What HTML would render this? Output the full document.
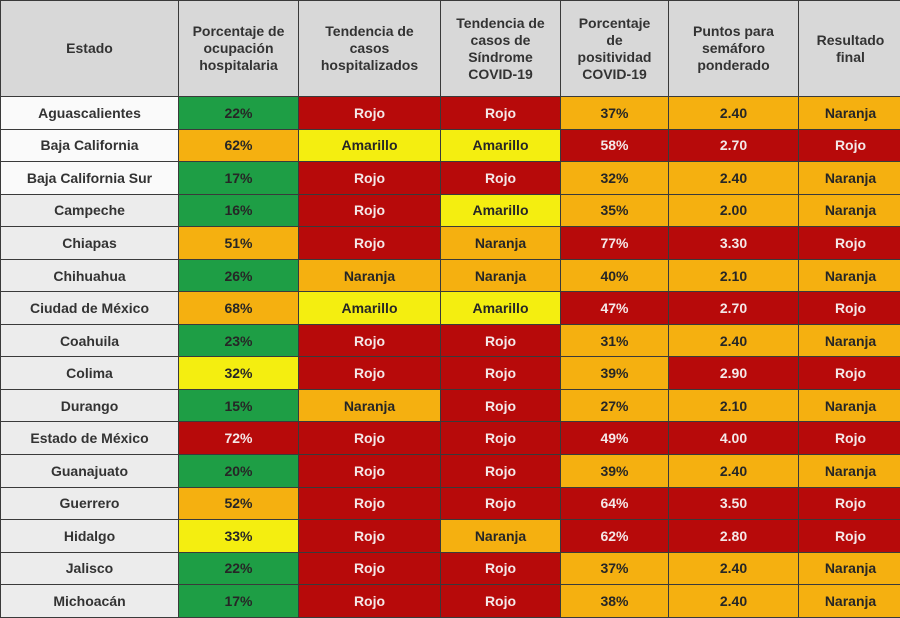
<!DOCTYPE html>
<html><head><meta charset="utf-8"><style>
body{margin:0;width:900px;height:617px;overflow:hidden;background:#ddd;}
table{border-collapse:collapse;table-layout:fixed;position:absolute;left:0;top:0;width:902px;font-family:"Liberation Sans",sans-serif;font-weight:bold;}
td,th{border:1.5px solid #3a3a3a;text-align:center;padding:0;font-size:14px;color:#262626;}
th{background:#d8d8d8;height:95px;font-size:14px;line-height:17px;color:#333;}
td{height:31.56px;}
td.s{background:#ececec;color:#333;}
tr.w td.s{background:#fafafa;}
.g{background:#1e9e45;}
.o{background:#f5b010;}
.y{background:#f4ee10;}
.r{background:#b70a0a;color:#f4e8e8;}
</style></head><body>
<table>
<colgroup><col style="width:178px"><col style="width:120px"><col style="width:142px"><col style="width:120px"><col style="width:108px"><col style="width:130px"><col style="width:104px"></colgroup>
<tr><th>Estado</th><th>Porcentaje de<br>ocupación<br>hospitalaria</th><th>Tendencia de<br>casos<br>hospitalizados</th><th>Tendencia de<br>casos de<br>Síndrome<br>COVID-19</th><th>Porcentaje<br>de<br>positividad<br>COVID-19</th><th>Puntos para<br>semáforo<br>ponderado</th><th>Resultado<br>final</th></tr>
<tr class="w"><td class="s">Aguascalientes</td><td class="g">22%</td><td class="r">Rojo</td><td class="r">Rojo</td><td class="o">37%</td><td class="o">2.40</td><td class="o">Naranja</td></tr>
<tr class="w"><td class="s">Baja California</td><td class="o">62%</td><td class="y">Amarillo</td><td class="y">Amarillo</td><td class="r">58%</td><td class="r">2.70</td><td class="r">Rojo</td></tr>
<tr class="w"><td class="s">Baja California Sur</td><td class="g">17%</td><td class="r">Rojo</td><td class="r">Rojo</td><td class="o">32%</td><td class="o">2.40</td><td class="o">Naranja</td></tr>
<tr><td class="s">Campeche</td><td class="g">16%</td><td class="r">Rojo</td><td class="y">Amarillo</td><td class="o">35%</td><td class="o">2.00</td><td class="o">Naranja</td></tr>
<tr><td class="s">Chiapas</td><td class="o">51%</td><td class="r">Rojo</td><td class="o">Naranja</td><td class="r">77%</td><td class="r">3.30</td><td class="r">Rojo</td></tr>
<tr><td class="s">Chihuahua</td><td class="g">26%</td><td class="o">Naranja</td><td class="o">Naranja</td><td class="o">40%</td><td class="o">2.10</td><td class="o">Naranja</td></tr>
<tr><td class="s">Ciudad de México</td><td class="o">68%</td><td class="y">Amarillo</td><td class="y">Amarillo</td><td class="r">47%</td><td class="r">2.70</td><td class="r">Rojo</td></tr>
<tr><td class="s">Coahuila</td><td class="g">23%</td><td class="r">Rojo</td><td class="r">Rojo</td><td class="o">31%</td><td class="o">2.40</td><td class="o">Naranja</td></tr>
<tr><td class="s">Colima</td><td class="y">32%</td><td class="r">Rojo</td><td class="r">Rojo</td><td class="o">39%</td><td class="r">2.90</td><td class="r">Rojo</td></tr>
<tr><td class="s">Durango</td><td class="g">15%</td><td class="o">Naranja</td><td class="r">Rojo</td><td class="o">27%</td><td class="o">2.10</td><td class="o">Naranja</td></tr>
<tr><td class="s">Estado de México</td><td class="r">72%</td><td class="r">Rojo</td><td class="r">Rojo</td><td class="r">49%</td><td class="r">4.00</td><td class="r">Rojo</td></tr>
<tr><td class="s">Guanajuato</td><td class="g">20%</td><td class="r">Rojo</td><td class="r">Rojo</td><td class="o">39%</td><td class="o">2.40</td><td class="o">Naranja</td></tr>
<tr><td class="s">Guerrero</td><td class="o">52%</td><td class="r">Rojo</td><td class="r">Rojo</td><td class="r">64%</td><td class="r">3.50</td><td class="r">Rojo</td></tr>
<tr><td class="s">Hidalgo</td><td class="y">33%</td><td class="r">Rojo</td><td class="o">Naranja</td><td class="r">62%</td><td class="r">2.80</td><td class="r">Rojo</td></tr>
<tr><td class="s">Jalisco</td><td class="g">22%</td><td class="r">Rojo</td><td class="r">Rojo</td><td class="o">37%</td><td class="o">2.40</td><td class="o">Naranja</td></tr>
<tr><td class="s">Michoacán</td><td class="g">17%</td><td class="r">Rojo</td><td class="r">Rojo</td><td class="o">38%</td><td class="o">2.40</td><td class="o">Naranja</td></tr>
</table>
</body></html>
